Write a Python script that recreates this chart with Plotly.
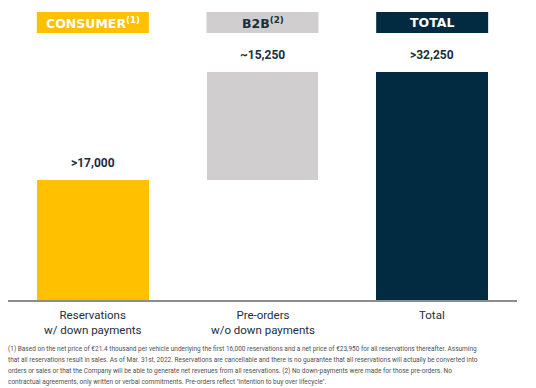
import plotly.graph_objects as go

categories = ["Reservations<br>w/ down payments", "Pre-orders<br>w/o down payments", "Total"]
segments = ["CONSUMER", "B2B", "TOTAL"]
segment_notes = ["(1)", "(2)", ""]
values = [17000, 15250, 32250]
value_prefix = [">", "~", ">"]
measures = ["relative", "relative", "total"]
footnote_lines = [
    "(1) Based on the net price of €21.4 thousand per vehicle underlying the first 16,000 reservations and a net price of €23,950 for all reservations thereafter. Assuming",
    "that all reservations result in sales. As of Mar. 31st, 2022. Reservations are cancellable and there is no guarantee that all reservations will actually be converted into",
    "orders or sales or that the Company will be able to generate net revenues from all reservations. (2) No down-payments were made for those pre-orders. No",
    "contractual agreements, only written or verbal commitments. Pre-orders reflect \"intention to buy over lifecycle\".",
]

colors = ["#FFC000", "#D0CECE", "#022B42"]
header_text_colors = ["#FFFFFF", "#1B2E3C", "#FFFFFF"]
navy = "#1B2E3C"

# bases for the waterfall-style layout
bases = []
running = 0
for v, m in zip(values, measures):
    if m == "total":
        bases.append(0)
        running = v
    else:
        bases.append(running)
        running += v

fig = go.Figure()
fig.add_trace(go.Bar(
    x=list(range(len(categories))),
    y=values,
    base=bases,
    marker=dict(color=colors, line=dict(width=0)),
    width=0.66,
    hoverinfo="skip",
))

BW = 0.66
for i, (seg, note) in enumerate(zip(segments, segment_notes)):
    fig.add_shape(type="rect", xref="x", yref="paper",
                  x0=i - BW / 2, x1=i + BW / 2, y0=0.927, y1=1.0,
                  fillcolor=colors[i], line=dict(width=0), layer="above")
    txt = "<b>" + seg + "</b>"
    if note:
        txt += "<sup><b>" + note + "</b></sup>"
    fig.add_annotation(x=i, y=0.9635, xref="x", yref="paper", text=txt,
                       showarrow=False, yanchor="middle",
                       font=dict(family="DejaVu Sans", size=12.5, color=header_text_colors[i]))
    top = bases[i] + values[i]
    fig.add_annotation(x=i, y=top, xref="x", yref="y",
                       text="<b>" + value_prefix[i] + f"{values[i]:,}" + "</b>",
                       showarrow=False, yanchor="bottom", yshift=8,
                       font=dict(family="Roboto", size=12, color=navy))
    fig.add_annotation(x=i, y=-0.022, xref="x", yref="paper", text=categories[i],
                       showarrow=False, yanchor="top",
                       font=dict(family="Roboto", size=11.5, color=navy))

for j, line in enumerate(footnote_lines):
    fig.add_annotation(x=-0.004, y=-0.170 - 0.0385 * j, xref="paper", yref="paper", text=line,
                       showarrow=False, xanchor="left", yanchor="middle", align="left",
                       font=dict(family="Roboto", size=6.5, color="#505050"))

fig.update_layout(
    width=528, height=380,
    margin=dict(l=0, r=19, t=4, b=88, autoexpand=False),
    paper_bgcolor="white", plot_bgcolor="white",
    showlegend=False,
    bargap=0,
    xaxis=dict(range=[-0.5, 2.5], showticklabels=False, showgrid=False, zeroline=False,
               showline=True, linecolor="#8C8C8C", linewidth=1.5, ticks="",
               automargin=False, fixedrange=True),
    yaxis=dict(range=[0, 40737], visible=False, showgrid=False, zeroline=False,
               automargin=False, fixedrange=True),
)

fig.write_html("out.html")
